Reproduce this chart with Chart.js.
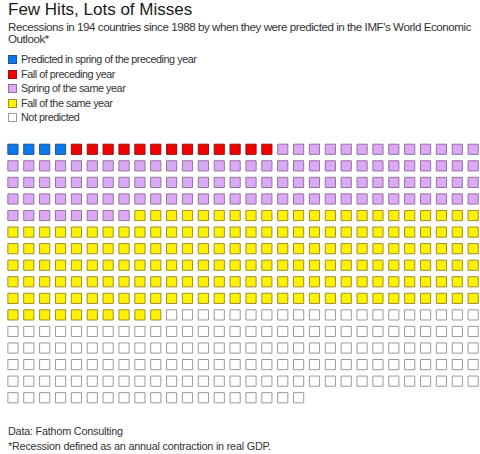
<!DOCTYPE html>
<html lang="en">
<head>
    <meta charset="UTF-8">
    <title>Few Hits, Lots of Misses</title>
    <script src="https://cdn.jsdelivr.net/npm/chart.js"></script>
    <style>
        body { margin: 0; padding: 0; width: 480px; height: 454px; overflow: hidden; background: #fff;
               font-family: "Liberation Sans", Arial, sans-serif; color: #333; position: relative; }
        h1 { position: absolute; left: 8px; top: 0px; margin: 0; font-size: 17px; font-weight: normal; color: #1a1a1a; line-height: 20px; }
        .sub { position: absolute; left: 8px; top: 21px; width: 470px; font-size: 11.6px; line-height: 12px; letter-spacing: -0.45px; }
        #legend { position: absolute; left: 8px; top: 52px; font-size: 10.8px; letter-spacing: -0.45px; }
        #legend div { height: 14.5px; line-height: 14.5px; white-space: nowrap; }
        #legend span { display: inline-block; width: 7px; height: 7px; border: 1px solid; margin-right: 4px; vertical-align: -1px; }
        #grid { position: absolute; left: 5px; top: 141px; }
        .foot { position: absolute; left: 8px; font-size: 10.8px; letter-spacing: -0.2px; }
    </style>
</head>
<body>
    <h1>Few Hits, Lots of Misses</h1>
    <div class="sub">Recessions in 194 countries since 1988 by when they were predicted in the IMF's World Economic Outlook*</div>
    <div id="legend"></div>
    <canvas id="grid" width="475" height="265"></canvas>
    <div class="foot" style="top:425px">Data: Fathom Consulting</div>
    <div class="foot" style="top:440px">*Recession defined as an annual contraction in real GDP.</div>

    <script>
        // categories and number of recessions in each (one square per recession)
        const categories = [
            'Predicted in spring of the preceding year',
            'Fall of preceding year',
            'Spring of the same year',
            'Fall of the same year',
            'Not predicted'
        ];
        const counts = [4, 13, 111, 182, 159];
        const fills = ['#0b78ef', '#f20000', '#dea8f8', '#fff100', '#ffffff'];
        const borders = ['#23528a', '#9a0f0f', '#8e7598', '#9a902c', '#9a9a9a'];
        const columns = 30;

        // legend
        const legend = document.getElementById('legend');
        categories.forEach((name, i) => {
            const row = document.createElement('div');
            row.innerHTML = `<span style="background:${fills[i]};border-color:${borders[i]}"></span>${name}`;
            legend.appendChild(row);
        });

        // fill squares row by row, left to right
        let n = 0;
        const datasets = categories.map((name, i) => {
            const pts = [];
            for (let k = 0; k < counts[i]; k++, n++) {
                pts.push({ x: n % columns, y: Math.floor(n / columns) });
            }
            return {
                label: name,
                data: pts,
                pointStyle: 'rect',
                pointRadius: 7.2,
                pointHoverRadius: 7.2,
                backgroundColor: fills[i],
                borderColor: borders[i],
                borderWidth: 1,
                clip: false
            };
        });

        new Chart(document.getElementById('grid'), {
            type: 'scatter',
            data: { datasets: datasets },
            options: {
                responsive: false,
                animation: false,
                layout: { padding: 0, autoPadding: false },
                plugins: { legend: { display: false }, tooltip: { enabled: false } },
                scales: {
                    x: { display: false, min: -0.5, max: 29.43 },
                    y: { display: false, reverse: true, min: -0.5, max: 15.5 }
                }
            }
        });
    </script>
</body>
</html>
